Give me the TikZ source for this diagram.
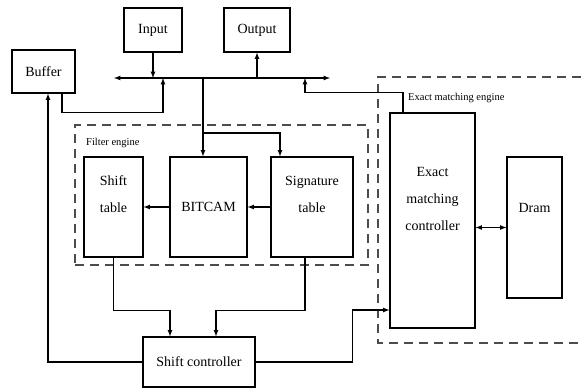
\documentclass[tikz,border=0pt]{standalone}
\usepackage{fontspec}
\setmainfont{Liberation Serif}
\usetikzlibrary{arrows,positioning}

\begin{document}
\begin{tikzpicture}[x=1pt,y=-1pt,>=latex,
  blk/.style={draw,line width=1.1pt,inner sep=0pt},
  txt/.style={align=center,font=\fontsize{14}{27}\selectfont},
  tag/.style={anchor=west,inner sep=0pt,font=\fontsize{10.5}{12}\selectfont},
  engine/.style={draw=black!70,line width=1.4pt,dash pattern=on 9pt off 6pt}]
\useasboundingbox (0,0) rectangle (581,388);
% top row
\node[blk,txt,minimum width=63,minimum height=43] (buffer) at (43.5,71.5) {Buffer};
\node[blk,txt,minimum width=58,minimum height=44] (input) at (153,30) {Input};
\node[blk,txt,minimum width=66,minimum height=44] (output) at (257,30) {Output};
\coordinate (busL) at (114,78);
\coordinate (busR) at (330,78);
\coordinate (tapA) at (163,78);
\coordinate (tapB) at (203,78);
\coordinate (tapC) at (305,78);
\coordinate (split) at (203,133);
%
% filter engine
\node[engine,minimum width=293,minimum height=140] (filter) at (221.5,195) {};
\node[tag] (filterT) at (86,143) {Filter engine};
\node[blk,minimum width=59,minimum height=100] (shift) at (113.5,207) {};
\node[txt] (shiftT) at ([yshift=13]shift.center) {Shift\\table};
\node[blk,txt,minimum width=77,minimum height=100] (bitcam) at (208.5,207) {BITCAM};
\node[blk,minimum width=82,minimum height=100] (sig) at (312,207) {};
\node[txt] (sigT) at ([yshift=13]sig.center) {Signature\\table};
%
% exact matching engine
\draw[engine] (581,77) -| (378,343) -- (581,343);
\node[tag] (exactE) at (408,98) {Exact matching engine};
\node[blk,minimum width=85,minimum height=215] (exact) at (432.5,220.5) {};
\node[txt] (exactT) at ([yshift=21.5]exact.center) {Exact\\matching\\controller};
\node[blk,minimum width=55,minimum height=141] (dram) at (534.5,227.5) {};
\node[txt] (dramT) at ([yshift=19.5]dram.center) {Dram};
%
\node[blk,txt,minimum width=112,minimum height=50] (ctrl) at (199,362) {Shift controller};
%
\draw[<->,line width=1.2pt] (busL) -- (busR);
\draw[->,line width=1.2pt] (input) -- (input |- busL);
\draw[->,line width=1.2pt] (output |- busL) -- (output);
\draw[->,line width=1.2pt] ([xshift=18.5]buffer.south) -- ++(0,19) -| (tapA);
\draw[->,line width=1.2pt] (tapB) -- (tapB |- bitcam.north);
\draw[->,line width=1.2pt] (split) -| ([xshift=-32]sig.north);
\draw[->,line width=1.2pt] ([xshift=-29.5]exact.north) -- ++(0,-20) -| (tapC);
\draw[->,line width=1.2pt] (sig) -- (bitcam);
\draw[->,line width=1.2pt] (bitcam) -- (shift);
\draw[->,line width=1.2pt] (shift.south) -- ++(0,53) -| ([xshift=-29]ctrl.north);
\draw[->,line width=1.2pt] ([xshift=-7]sig.south) -- ++(0,53) -| ([xshift=17]ctrl.north);
\draw[->,line width=1.2pt] (ctrl.west) -| ([xshift=4.5]buffer.south);
\draw[->,line width=1.2pt] (ctrl.east) -- ++(97,0) |- ([yshift=-89.5]exact.west);
\draw[<->,line width=1.2pt] (dram.west -| exact.east) -- (dram.west);
\end{tikzpicture}
\end{document}
